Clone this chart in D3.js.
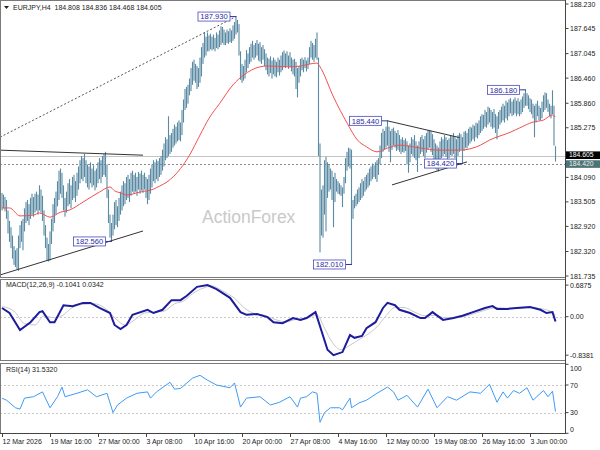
<!DOCTYPE html>
<html><head><meta charset="utf-8">
<script src="https://cdn.jsdelivr.net/npm/d3@7"></script>
<style>body{margin:0;background:#fff}svg{display:block}text{font-family:"Liberation Sans",Arial,sans-serif;white-space:pre}</style>
</head><body><svg id="c" width="600" height="450"></svg>
<script>
// ---------- DATA ----------
const highs=[
183.72,183.68,183.62,183.55,183.30,183.05,182.90,182.70,182.45,182.35,
182.40,182.70,182.95,183.05,183.10,183.35,183.50,183.55,183.45,183.60,
183.70,183.62,183.70,183.75,183.68,183.90,183.80,183.65,183.30,182.95,
182.65,182.50,182.80,183.10,183.45,183.60,183.75,184.00,184.25,184.30,
184.20,183.90,183.60,183.75,183.95,184.05,183.90,184.10,184.15,184.00,
184.20,184.35,184.50,184.60,184.55,184.65,184.50,184.40,184.35,184.45,
184.30,184.38,184.25,184.30,184.45,184.55,184.50,184.60,184.65,184.70,
184.40,183.80,183.20,183.00,183.20,183.50,183.55,183.40,183.60,183.75,
183.90,184.00,183.95,184.10,184.15,184.05,184.20,184.25,184.15,184.20,
184.10,184.22,184.18,184.25,184.15,184.20,184.10,184.05,184.15,184.30,
184.40,184.50,184.45,184.52,184.48,184.55,184.60,184.75,184.90,185.05,
185.00,185.55,185.10,185.15,185.25,185.35,185.30,185.40,185.45,185.40,
185.70,185.95,186.20,186.25,186.30,186.45,186.70,186.85,186.90,186.80,
186.75,186.70,186.95,187.20,187.30,187.55,187.45,187.55,187.48,187.52,
187.45,187.50,187.42,187.55,187.50,187.60,187.70,187.68,187.62,187.55,
187.62,187.58,187.65,187.60,187.72,187.80,187.93,187.85,187.75,187.10,
186.80,186.75,186.90,187.13,187.05,187.20,187.28,187.35,187.25,187.30,
187.37,187.28,187.32,187.20,187.25,187.15,187.05,186.95,186.92,186.98,
186.88,186.95,186.90,186.85,186.95,186.90,187.00,187.08,187.12,187.05,
187.10,187.00,187.08,186.95,186.90,186.92,186.85,186.70,186.75,186.92,
186.95,186.90,186.96,186.88,186.95,187.20,187.35,187.30,187.25,187.40,
187.55,186.95,184.90,183.80,183.90,184.50,184.58,184.45,184.40,184.30,
184.25,184.10,184.20,184.05,184.00,183.95,183.90,183.85,184.10,184.55,
184.70,184.80,184.78,184.75,183.55,183.65,183.70,183.80,183.85,183.95,
184.05,184.00,184.10,184.15,184.20,184.30,184.35,184.42,184.38,184.45,
184.50,184.55,184.85,185.15,185.25,185.20,185.30,185.44,185.30,185.20,
185.25,185.28,185.20,185.15,185.22,185.10,185.00,185.05,184.98,185.02,
184.95,184.85,184.90,185.05,185.00,185.10,184.95,184.85,184.95,185.05,
185.10,185.00,185.08,185.15,185.22,185.22,185.20,185.12,185.00,184.90,
184.85,184.80,184.95,185.05,185.00,185.10,185.05,184.98,185.02,185.10,
185.08,185.15,185.05,185.00,185.10,185.15,185.12,185.05,185.18,185.20,
185.15,185.25,185.30,185.28,185.35,185.32,185.40,185.38,185.45,185.55,
185.60,185.58,185.70,185.65,185.78,185.75,185.70,185.65,185.72,185.60,
185.55,185.65,185.70,185.78,185.85,185.80,185.92,185.88,185.95,185.98,
185.90,185.95,186.00,185.92,185.98,185.90,185.95,186.02,186.10,186.18,
186.10,186.05,185.98,185.95,185.85,185.80,185.85,185.92,185.80,185.75,
185.90,186.05,186.12,186.10,185.95,185.85,185.80,186.17,185.80,184.836];
const lows=[
183.30,183.35,183.28,183.10,182.75,182.55,182.40,182.15,182.00,181.95,
181.90,181.86,182.40,182.55,182.35,182.80,183.00,183.05,182.95,183.10,
183.20,183.15,183.25,183.30,183.20,183.30,183.25,183.05,182.70,182.40,
182.10,182.08,182.10,182.50,182.80,183.00,183.20,183.40,183.55,183.70,
183.60,183.30,183.15,183.25,183.40,183.45,183.35,183.55,183.60,183.50,
183.65,183.80,183.95,184.05,184.00,184.10,183.95,183.85,183.80,183.95,
183.85,183.90,183.78,183.85,183.95,184.05,183.95,184.10,184.15,184.10,
183.60,183.00,182.65,182.56,182.70,182.85,182.95,182.90,183.05,183.20,
183.30,183.40,183.45,183.55,183.60,183.50,183.65,183.75,183.70,183.75,
183.65,183.80,183.70,183.78,183.72,183.80,183.60,183.45,183.55,183.70,
183.85,184.00,183.95,184.05,184.00,184.10,184.15,184.25,184.35,184.50,
184.55,184.60,184.65,184.70,184.80,184.85,184.90,184.95,184.98,184.95,
185.10,185.40,185.70,185.75,185.85,186.05,186.15,186.30,186.40,186.35,
186.20,186.25,186.35,186.50,186.80,186.95,187.00,187.10,187.10,187.15,
187.12,187.15,187.10,187.18,187.15,187.20,187.25,187.30,187.25,187.25,
187.30,187.28,187.32,187.30,187.35,187.40,187.50,187.55,187.00,186.42,
186.35,186.40,186.45,186.60,186.70,186.80,186.85,186.95,186.90,186.95,
187.00,186.88,186.85,186.80,186.90,186.75,186.65,186.55,186.50,186.58,
186.45,186.55,186.50,186.48,186.60,186.52,186.60,186.65,186.72,186.70,
186.75,186.68,186.72,186.62,186.55,186.50,186.20,186.00,186.35,186.50,
186.65,186.60,186.70,186.62,186.68,186.80,186.95,186.90,186.85,186.95,
186.90,184.60,182.30,182.70,182.65,183.20,182.80,183.60,183.75,183.80,
183.55,182.90,183.50,183.75,183.70,183.68,183.65,183.38,183.70,183.95,
184.25,184.35,184.30,182.01,183.10,183.35,183.40,183.45,183.50,183.55,
183.60,183.65,183.75,183.80,183.85,183.90,184.00,184.05,184.10,184.05,
183.98,184.15,184.40,184.55,184.70,184.75,184.80,184.85,184.70,184.45,
184.75,184.85,184.80,184.72,184.75,184.70,184.65,184.70,184.68,184.72,
184.40,184.20,184.45,184.65,184.60,184.55,184.50,184.22,184.55,184.65,
184.70,184.60,184.55,184.68,184.75,184.80,184.70,184.62,184.50,184.30,
184.25,184.23,184.45,184.55,184.60,184.65,184.58,184.50,184.55,184.62,
184.60,184.65,184.55,184.45,184.60,184.70,184.75,184.42,184.72,184.80,
184.78,184.85,184.90,184.95,185.00,184.95,185.05,185.02,185.10,185.15,
185.20,185.25,185.30,185.28,185.35,185.40,185.30,185.25,185.28,185.15,
185.00,185.25,185.35,185.40,185.45,185.40,185.50,185.45,185.55,185.62,
185.55,185.58,185.62,185.55,185.60,185.55,185.60,185.65,185.75,185.80,
185.80,185.72,185.65,185.60,185.50,185.05,185.40,185.55,185.45,185.45,
185.50,185.65,185.70,185.75,185.65,185.55,185.50,185.60,184.85,184.468];
const lastOHLC=[184.808,184.836,184.468,184.605];
const maLine=[[0,183.36],[5,183.36],[12,183.17],[21,183.19],[25,183.24],[32,183.14],[39,183.26],[45,183.31],[54,183.50],[65,183.74],[72,183.86],[75,183.77],[79,183.72],[83,183.67],[92,183.74],[101,183.81],[105,183.88],[110,183.98],[119,184.30],[125,184.62],[132,185.10],[138,185.50],[145,185.85],[154,186.30],[161,186.53],[172,186.73],[177,186.75],[192,186.73],[199,186.75],[210,186.82],[212,186.73],[221,186.01],[230,185.39],[237,184.98],[243,184.82],[250,184.70],[257,184.79],[265,184.86],[279,184.79],[292,184.74],[305,184.74],[319,184.86],[325,184.98],[339,185.17],[345,185.27],[354,185.41],[361,185.46],[367,185.58],[369,185.53]];
const macdMain=[[0,0.19],[5,0.08],[12,-0.29],[19,-0.12],[25,0.10],[27,0.12],[32,-0.12],[35,-0.12],[41,0.25],[47,0.23],[54,0.30],[59,0.30],[65,0.19],[72,0.08],[75,-0.18],[79,-0.27],[83,-0.18],[87,0.04],[97,0.15],[101,0.08],[107,0.15],[113,0.36],[119,0.36],[123,0.45],[130,0.65],[137,0.6875],[143,0.60],[152,0.41],[159,0.10],[163,0.04],[170,0.06],[177,-0.01],[181,-0.12],[187,-0.14],[194,-0.03],[199,-0.07],[203,-0.03],[209,0.10],[217,-0.72],[221,-0.8381],[227,-0.77],[232,-0.40],[235,-0.46],[240,-0.42],[243,-0.25],[249,-0.12],[254,0.19],[257,0.30],[262,0.25],[265,0.15],[272,0.08],[279,-0.03],[282,-0.03],[287,0.10],[294,-0.07],[301,-0.03],[307,0.02],[314,0.10],[322,0.19],[327,0.23],[330,0.17],[337,0.17],[343,0.19],[352,0.21],[359,0.15],[363,0.08],[367,0.10],[369,-0.1041]];
const macdSignal=[[0,0.22],[8,0.12],[15,-0.15],[22,-0.18],[28,0.02],[34,-0.02],[40,0.02],[46,0.18],[55,0.27],[62,0.28],[70,0.15],[76,-0.05],[82,-0.18],[88,-0.08],[95,0.08],[102,0.10],[108,0.12],[115,0.28],[121,0.34],[127,0.50],[134,0.62],[140,0.67],[146,0.58],[155,0.40],[162,0.18],[168,0.07],[175,0.03],[182,-0.06],[189,-0.11],[196,-0.06],[203,-0.04],[210,0.04],[215,-0.25],[220,-0.55],[226,-0.72],[232,-0.62],[238,-0.50],[244,-0.38],[250,-0.22],[256,0.02],[262,0.20],[268,0.20],[275,0.10],[282,0.02],[289,0.03],[295,-0.02],[302,-0.02],[309,0.01],[316,0.08],[323,0.15],[330,0.20],[337,0.18],[344,0.18],[352,0.20],[360,0.17],[366,0.11],[369,0.0342]];
const rsiLine=[[0,50.8],[3,48],[9,37],[12,35],[15,51],[21,53],[27,60],[32,37],[37,53],[40,67],[42,53],[50,58],[57,63],[63,53],[70,58],[74,30],[77,41],[83,51],[90,58],[97,60],[99,51],[103,60],[112,74],[115,64],[119,65],[127,80],[132,84],[137,77],[143,70],[152,66],[155,73],[159,38],[163,51],[172,53],[179,41],[185,45],[192,53],[197,38],[199,51],[203,53],[207,60],[210,58],[212,16],[215,30],[219,37],[225,37],[227,34],[232,51],[233,37],[238,44],[243,48],[250,58],[257,67],[261,60],[264,48],[270,55],[277,38],[284,64],[290,37],[297,53],[303,48],[312,60],[319,58],[325,71],[330,45],[334,60],[337,51],[341,62],[345,58],[350,66],[354,48],[361,62],[364,53],[367,61],[369,31.532]];
const priceTicks=[188.230,187.645,187.045,186.460,185.860,185.275,184.690,184.090,183.505,182.920,182.320,181.735];
const macdTicks=[0.6875,0,-0.8381];
const macdTickLabels=["0.6875","0.00","-0.8381"];
const rsiTicks=[100,70,30,0];
const timeTickIdx=[0,32,64,96,128,160,192,224,256,288,320,352];
const timeTickLabels=["12 Mar 2026","19 Mar 16:00","27 Mar 00:00","3 Apr 08:00","10 Apr 16:00","20 Apr 00:00","27 Apr 08:00","4 May 16:00","12 May 00:00","19 May 08:00","26 May 16:00","3 Jun 00:00"];
const pointLabels=[[156,187.930],[73,182.560],[233,182.010],[257,185.440],[307,184.420],[349,186.180]];
const trendLines=[[-1.3,185.05,156,187.93,1],[-1.3,184.74,94,184.62,0],[-1.3,181.76,94,182.81,0],[257,185.44,305,185.04,0],[260,183.91,310,184.46,0]];
const levelLine=184.420;
const symbol="EURJPY,H4";

// ---------- DRAW ----------
const svg=d3.select("#c");
const R=565.5;
const x=d3.scaleLinear().domain([0,369]).range([2,555.5]);
const y=d3.scaleLinear().domain([181.735,188.230]).range([276,4]);
const yM=d3.scaleLinear().domain([-0.8381,0.6875]).range([355.2,285.1]);
const yR=d3.scaleLinear().domain([0,100]).range([433.3,364.3]);
const defs=svg.append("defs");
[["cm",1,277],["cmacd",280,80],["crsi",364,69]].forEach(([id,b,h])=>defs.append("clipPath").attr("id",id).append("rect").attr("x",1).attr("y",b).attr("width",R-1).attr("height",h));

// watermark
svg.append("text").attr("x",202).attr("y",223).attr("font-size",17.5).attr("fill","#c9c9c9").text("ActionForex");

const gm=svg.append("g").attr("clip-path","url(#cm)");
// level lines
gm.append("line").attr("x1",0).attr("x2",R).attr("y1",Math.round(y(lastOHLC[3]))+0.5).attr("y2",Math.round(y(lastOHLC[3]))+0.5).attr("stroke","#c4c4c4");
gm.append("line").attr("x1",0).attr("x2",R).attr("y1",Math.round(y(levelLine))+0.5).attr("y2",Math.round(y(levelLine))+0.5).attr("stroke","#8a8a8a").attr("stroke-dasharray","2,2");
// bars
gm.append("g").selectAll("rect").data(d3.range(highs.length)).join("rect")
  .attr("x",i=>x(i)-0.55).attr("width",1.1)
  .attr("y",i=>y(highs[i])).attr("height",i=>Math.max(1,y(lows[i])-y(highs[i])))
  .attr("fill","#5b8aa4");
// MA
gm.append("path").datum(maLine).attr("fill","none").attr("stroke","#f05050").attr("stroke-width",1)
  .attr("d",d3.line().x(d=>x(d[0])).y(d=>y(d[1])).curve(d3.curveMonotoneX));
// trend lines
gm.selectAll(".tl").data(trendLines).join("line").attr("class","tl")
  .attr("x1",d=>x(d[0])).attr("y1",d=>y(d[1])).attr("x2",d=>x(d[2])).attr("y2",d=>y(d[3]))
  .attr("stroke",d=>d[4]?"#555":"#333").attr("stroke-width",1).attr("stroke-dasharray",d=>d[4]?"2,2":null);
// point labels
const pl=gm.selectAll(".pl").data(pointLabels).join("g").attr("class","pl");
pl.append("line").attr("x1",d=>x(d[0])-6).attr("x2",d=>x(d[0])+0.5).attr("y1",d=>y(d[1])).attr("y2",d=>y(d[1])).attr("stroke","#333399");
pl.append("rect").attr("x",d=>x(d[0])-38).attr("y",d=>y(d[1])-4.5).attr("width",32).attr("height",9).attr("fill","#fff").attr("stroke","#4a4ac0").attr("stroke-width",0.8);
pl.append("text").attr("x",d=>x(d[0])-22).attr("y",d=>y(d[1])+2.8).attr("text-anchor","middle").attr("font-size",7.6).attr("fill","#2a2aa0").text(d=>d[1].toFixed(3));

// MACD panel
const gd=svg.append("g").attr("clip-path","url(#cmacd)");
gd.append("line").attr("x1",0).attr("x2",R).attr("y1",Math.round(yM(0))+0.5).attr("y2",Math.round(yM(0))+0.5).attr("stroke","#c8c8c8").attr("stroke-dasharray","2,2");
gd.append("path").datum(macdSignal).attr("fill","none").attr("stroke","#c8c8c8").attr("stroke-width",1)
  .attr("d",d3.line().x(d=>x(d[0])).y(d=>yM(d[1])).curve(d3.curveMonotoneX));
gd.append("path").datum(macdMain).attr("fill","none").attr("stroke","#1c1c9c").attr("stroke-width",2)
  .attr("d",d3.line().x(d=>x(d[0])).y(d=>yM(d[1])));

// RSI panel
const gr=svg.append("g").attr("clip-path","url(#crsi)");
[70,30].forEach(v=>gr.append("line").attr("x1",0).attr("x2",R).attr("y1",Math.round(yR(v))+0.5).attr("y2",Math.round(yR(v))+0.5).attr("stroke","#c8c8c8").attr("stroke-dasharray","2,2"));
gr.append("path").datum(rsiLine).attr("fill","none").attr("stroke","#3d9bf5").attr("stroke-width",1)
  .attr("d",d3.line().x(d=>x(d[0])).y(d=>yR(d[1])));

// frames
const fr=svg.append("g").attr("fill","none").attr("stroke","#7a7a7a");
fr.append("rect").attr("x",0.5).attr("y",0.5).attr("width",R-0.5).attr("height",277);
fr.append("rect").attr("x",0.5).attr("y",279.5).attr("width",R-0.5).attr("height",81);
fr.append("rect").attr("x",0.5).attr("y",363.5).attr("width",R-0.5).attr("height",70);
svg.append("line").attr("x1",R).attr("x2",R).attr("y1",0).attr("y2",434).attr("stroke","#444");

// price badges positions (stacked)
const badges=[[lastOHLC[3],"#000","#fff",-4.4],[levelLine,"#4d7474","#e8f0f0",-3.3]];
const badgeTop=y(badges[0][0])+badges[0][3], badgeBot=y(badges[1][0])+badges[1][3]+7.6;

// right axes
const ax=svg.append("g").attr("font-size",7).attr("fill","#222");
priceTicks.forEach(v=>{const yy=y(v);ax.append("line").attr("x1",R).attr("x2",R+3).attr("y1",yy).attr("y2",yy).attr("stroke","#444");
  // labels hidden behind the price badges are not drawn (as in the reference)
  if(yy+3<badgeTop-0.5||yy-3>badgeBot+0.5) ax.append("text").attr("x",570).attr("y",yy+2.5).text(v.toFixed(3));});
macdTicks.forEach((v,k)=>{const yy=yM(v);ax.append("line").attr("x1",R).attr("x2",R+3).attr("y1",yy).attr("y2",yy).attr("stroke","#444");
  ax.append("text").attr("x",570).attr("y",yy+2.5).text(macdTickLabels[k]);});
rsiTicks.forEach(v=>{const yy=yR(v);const ty=Math.min(429,Math.max(368,yy));ax.append("line").attr("x1",R).attr("x2",R+3).attr("y1",yy).attr("y2",yy).attr("stroke","#444");
  ax.append("text").attr("x",570).attr("y",ty+2.5).text(String(v));});
badges.forEach(([v,bg,fg,off])=>{const yy=y(v);
  ax.append("rect").attr("x",566).attr("y",yy+off).attr("width",34).attr("height",7.6).attr("fill",bg);
  ax.append("text").attr("x",569).attr("y",yy+off+6).attr("font-size",6.8).attr("fill",fg).text(v.toFixed(3));});

// time axis
svg.append("line").attr("x1",0).attr("x2",R).attr("y1",433.5).attr("y2",433.5).attr("stroke","#444");
const tx=svg.append("g").attr("font-size",7).attr("fill","#222");
timeTickIdx.forEach((t,k)=>{const xx=Math.round(x(t))+0.5;
  tx.append("line").attr("x1",xx).attr("x2",xx).attr("y1",433).attr("y2",437).attr("stroke","#444");
  tx.append("text").attr("x",xx).attr("y",444).text(timeTickLabels[k]);});

// titles
svg.append("path").attr("d","M4,6L9,6L6.5,9Z").attr("fill","#222");
svg.append("text").attr("x",13).attr("y",10).attr("font-size",7).attr("fill","#222")
  .text(symbol+"  "+lastOHLC.map(v=>v.toFixed(3)).join(" "));
svg.append("text").attr("x",6).attr("y",287).attr("font-size",7).attr("fill","#222")
  .text("MACD(12,26,9) "+macdMain[macdMain.length-1][1].toFixed(4)+" "+macdSignal[macdSignal.length-1][1].toFixed(4));
svg.append("text").attr("x",6).attr("y",372).attr("font-size",7).attr("fill","#222")
  .text("RSI(14) "+rsiLine[rsiLine.length-1][1].toFixed(4));
</script></body></html>
